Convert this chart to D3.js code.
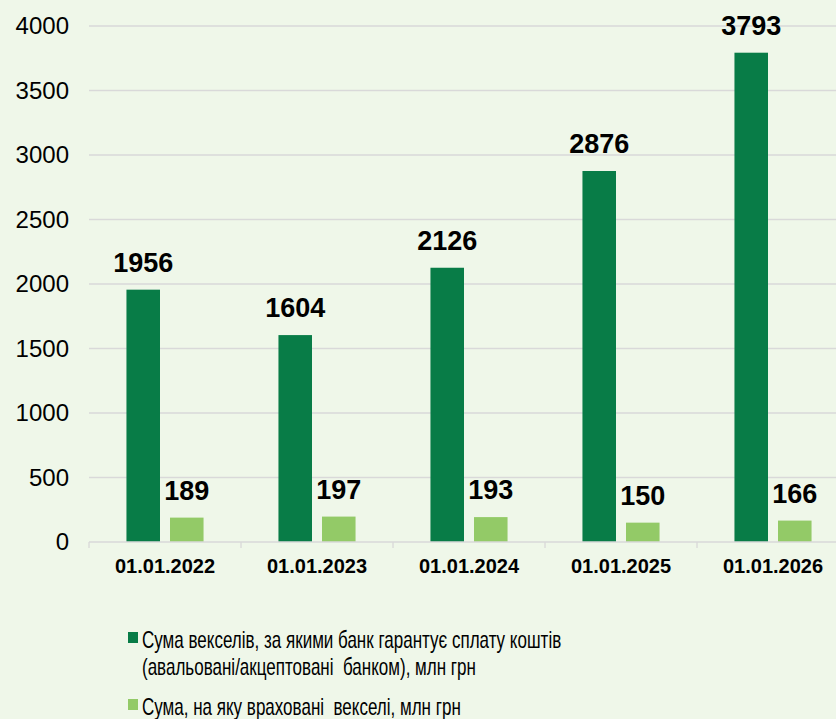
<!DOCTYPE html>
<html>
<head>
<meta charset="utf-8">
<script src="https://cdn.jsdelivr.net/npm/d3@7"></script>
<style>
  body { margin: 0; background: #eff7e9; }
  svg { display: block; }
</style>
</head>
<body>
<div id="chart"></div>
<script>
// data
var dates = ["01.01.2022", "01.01.2023", "01.01.2024", "01.01.2025", "01.01.2026"];
var guaranteed = [1956, 1604, 2126, 2876, 3793];
var discounted = [189, 197, 193, 150, 166];
var yTicks = [0, 500, 1000, 1500, 2000, 2500, 3000, 3500, 4000];
var seriesNames = [
  ["Сума векселів, за якими банк гарантує сплату коштів", "(авальовані/акцептовані  банком), млн грн"],
  ["Сума, на яку враховані  векселі, млн грн"]
];
var colors = ["#087c47", "#93ca67"];

var W = 836, H = 719;
var plotLeft = 89, plotRight = 849, plotTop = 26, plotBottom = 542;

var svg = d3.select("#chart")
  .append("svg")
    .attr("width", W)
    .attr("height", H)
    .style("font-family", "'Liberation Sans', Arial, sans-serif");

svg.append("rect").attr("width", W).attr("height", H).attr("fill", "#eff7e9");

var x = d3.scaleBand()
  .domain(dates)
  .range([plotLeft, plotRight]);

var keys = ["g", "d"];
var xSub = d3.scaleBand()
  .domain(keys)
  .range([0, x.bandwidth()])
  .paddingInner(0.23)
  .paddingOuter(0.86);

var y = d3.scaleLinear()
  .domain([0, 4000])
  .range([plotBottom, plotTop]);

// gridlines
svg.append("g")
  .selectAll("line")
  .data(yTicks.filter(d => d > 0))
  .join("line")
    .attr("x1", plotLeft)
    .attr("x2", W)
    .attr("y1", d => y(d))
    .attr("y2", d => y(d))
    .attr("stroke", "#d9d9d9")
    .attr("stroke-width", 1.3);

// y axis labels
var yAxis = d3.axisLeft(y).tickValues(yTicks).tickFormat(d3.format("d")).tickSize(0).tickPadding(20);
svg.append("g")
  .attr("transform", `translate(${plotLeft},0)`)
  .call(yAxis)
  .call(g => g.select(".domain").remove())
  .selectAll("text")
    .style("font-size", "24px")
    .style("font-family", "'Liberation Sans', Arial, sans-serif")
    .attr("fill", "#000");

var rows = dates.map((d, i) => ({date: d, g: guaranteed[i], d: discounted[i]}));

// bars
var groups = svg.append("g")
  .selectAll("g")
  .data(rows)
  .join("g")
    .attr("transform", d => `translate(${x(d.date)},0)`);

groups.selectAll("rect")
  .data(d => keys.map((k, j) => ({key: k, value: d[k], c: colors[j]})))
  .join("rect")
    .attr("x", d => xSub(d.key))
    .attr("width", xSub.bandwidth())
    .attr("y", d => y(d.value))
    .attr("height", d => y(0) - y(d.value))
    .attr("fill", d => d.c);

groups.selectAll("text")
  .data(d => keys.map(k => ({key: k, value: d[k]})))
  .join("text")
    .attr("x", d => xSub(d.key) + xSub.bandwidth() / 2)
    .attr("y", d => y(d.value) - 18)
    .attr("text-anchor", "middle")
    .style("font-size", "27px")
    .style("font-weight", "bold")
    .text(d => d.value);

// x axis
var xAxis = d3.axisBottom(x).tickSize(0).tickPadding(17);
var xg = svg.append("g")
  .attr("transform", `translate(0,${plotBottom})`)
  .call(xAxis);
xg.select(".domain").attr("stroke", "#d9d9d9").attr("stroke-width", 1.3)
  .attr("d", `M${plotLeft},0H${W}`);
xg.selectAll("text")
  .style("font-size", "20px")
  .style("font-weight", "bold")
  .style("font-family", "'Liberation Sans', Arial, sans-serif")
  .attr("fill", "#000");
// category separators
xg.append("g")
  .selectAll("line")
  .data(dates)
  .join("line")
    .attr("x1", d => x(d))
    .attr("x2", d => x(d))
    .attr("y1", 0)
    .attr("y2", 6)
    .attr("stroke", "#d9d9d9")
    .attr("stroke-width", 1.3);

// legend (narrow face emulated with a horizontal squeeze)
var legendY = [648, 715];
var legend = svg.append("g");
seriesNames.forEach(function(lines, i) {
  legend.append("rect")
    .attr("x", 128)
    .attr("y", legendY[i] - 16)
    .attr("width", 10)
    .attr("height", 11)
    .attr("fill", colors[i]);
  lines.forEach(function(t, k) {
    legend.append("text")
      .attr("transform", `translate(142,${legendY[i] + k * 27}) scale(0.74,1)`)
      .style("font-size", "23px")
      .style("white-space", "pre")
      .attr("fill", "#000")
      .text(t);
  });
});
</script>
</body>
</html>
